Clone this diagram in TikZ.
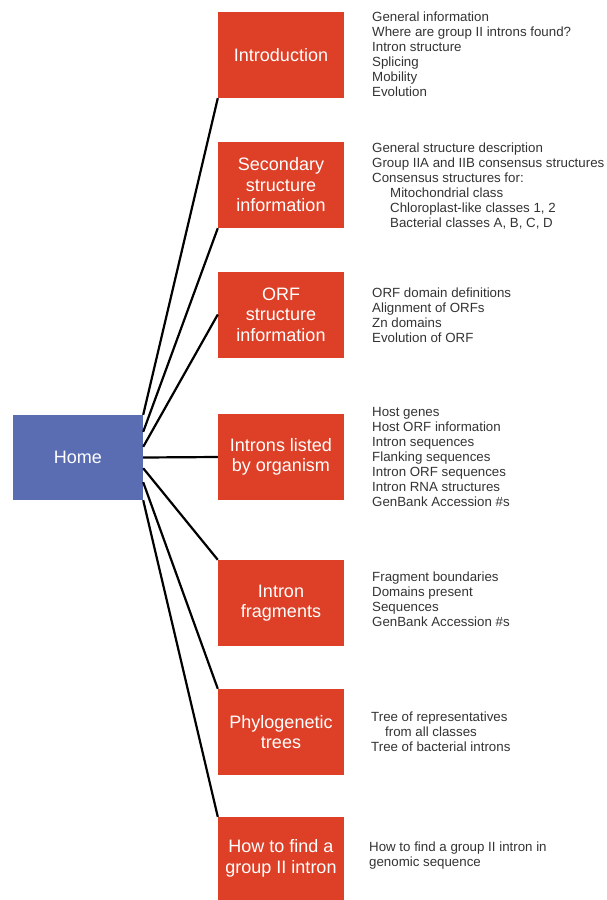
\documentclass[tikz,border=0pt]{standalone}
\usepackage{fontspec}
\setmainfont{Liberation Sans}
\usetikzlibrary{calc}
\definecolor{boxred}{HTML}{DD3F27}
\definecolor{homeblue}{HTML}{5A6DB3}
\definecolor{txtgray}{HTML}{333333}
\begin{document}
\begin{tikzpicture}[x=1pt,y=-1pt,
  redbox/.style={rectangle, fill=boxred, draw=none, minimum width=126pt, minimum height=86pt,
    inner sep=0pt, text=white, align=center, font=\fontsize{18}{20.5}\selectfont},
  homebox/.style={rectangle, fill=homeblue, draw=none, minimum width=130pt, minimum height=85pt,
    inner sep=0pt, text=white, font=\fontsize{18}{20.5}\selectfont},
  infotext/.style={anchor=base west, inner sep=0pt, text=txtgray,
    font=\fontsize{13.3}{15}\selectfont},
  link/.style={line width=2.2pt, black}]
\useasboundingbox (0,0) rectangle (606,900);

\node[homebox] (home) at (78,457.5) {Home};

\node[redbox] (intro) at (281,55) {Introduction};
\node[redbox] (sec) at (281,185) {Secondary\\structure\\information};
\node[redbox] (orf) at (281,314.5) {ORF\\structure\\information};
\node[redbox] (org) at (281,457) {Introns listed\\by organism};
\node[redbox] (frag) at (281,603) {Intron\\fragments};
\node[redbox] (phylo) at (281,732) {Phylogenetic\\trees};
\node[redbox, minimum height=83pt] (find) at (281,858.5) {How to find a\\group II intron};

\coordinate (s1) at (home.north east);
\coordinate (s2) at ($(home.north east)+(0,17)$);
\coordinate (s3) at ($(home.north east)+(0,32)$);
\coordinate (s5) at ($(home.south east)+(0,-32)$);
\coordinate (s6) at ($(home.south east)+(0,-18)$);
\coordinate (s7) at (home.south east);

\draw[link] (s1) -- (intro.south west);
\draw[link] (s2) -- (sec.south west);
\draw[link] (s3) -- (orf.west);
\draw[link] (home.east) -- (org.west);
\draw[link] (s5) -- (frag.north west);
\draw[link] (s6) -- (phylo.north west);
\draw[link] (s7) -- (find.north west);

\node[infotext] (t1) at (372,21.5) {\begin{tabular}[t]{@{}l@{}}General information\\Where are group II introns found?\\Intron structure\\Splicing\\Mobility\\Evolution\end{tabular}};
\node[infotext] (t2) at (372,152.5) {\begin{tabular}[t]{@{}l@{}}General structure description\\Group IIA and IIB consensus structures\\Consensus structures for:\\\hspace*{18pt}Mitochondrial class\\\hspace*{18pt}Chloroplast-like classes 1, 2\\\hspace*{18pt}Bacterial classes A, B, C, D\end{tabular}};
\node[infotext] (t3) at (372,297.5) {\begin{tabular}[t]{@{}l@{}}ORF domain definitions\\Alignment of ORFs\\Zn domains\\Evolution of ORF\end{tabular}};
\node[infotext] (t4) at (372,416.5) {\begin{tabular}[t]{@{}l@{}}Host genes\\Host ORF information\\Intron sequences\\Flanking sequences\\Intron ORF sequences\\Intron RNA structures\\GenBank Accession \#s\end{tabular}};
\node[infotext] (t5) at (372,581.5) {\begin{tabular}[t]{@{}l@{}}Fragment boundaries\\Domains present\\Sequences\\GenBank Accession \#s\end{tabular}};
\node[infotext] (t6) at (371,721.5) {\begin{tabular}[t]{@{}l@{}}Tree of representatives\\\hspace*{14pt}from all classes\\Tree of bacterial introns\end{tabular}};
\node[infotext] (t7) at (369,851.5) {\begin{tabular}[t]{@{}l@{}}How to find a group II intron in\\genomic sequence\end{tabular}};
\end{tikzpicture}
\end{document}
